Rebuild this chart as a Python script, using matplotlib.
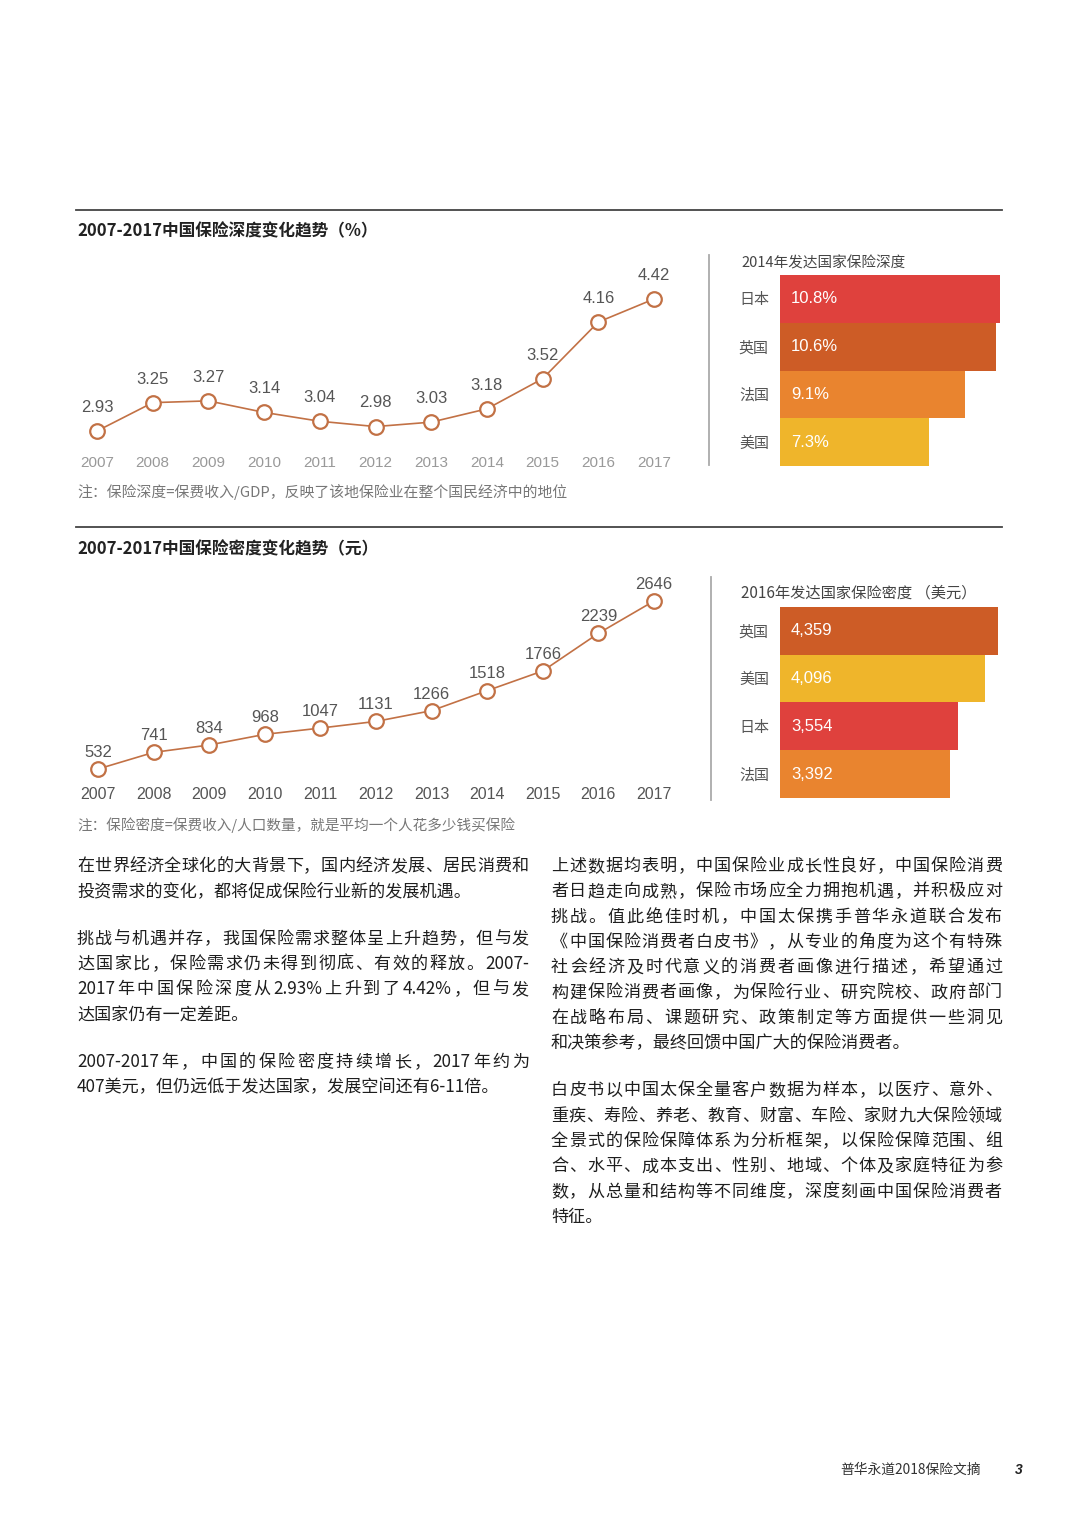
import re
import numpy as np
import matplotlib
matplotlib.use('Agg')
import matplotlib.pyplot as plt
from matplotlib.font_manager import FontProperties

plt.rcParams['font.family'] = ['Noto Sans CJK SC', 'DejaVu Sans']
NUM_FONT = ['Liberation Sans', 'Noto Sans CJK SC']

# ---- data ----
years = [2007, 2008, 2009, 2010, 2011, 2012, 2013, 2014, 2015, 2016, 2017]
depth = [2.93, 3.25, 3.27, 3.14, 3.04, 2.98, 3.03, 3.18, 3.52, 4.16, 4.42]
density = [532, 741, 834, 968, 1047, 1131, 1266, 1518, 1766, 2239, 2646]

depth_countries = ['日本', '英国', '法国', '美国']
depth_values = [10.8, 10.6, 9.1, 7.3]
depth_labels = ['10.8%', '10.6%', '9.1%', '7.3%']

density_countries = ['英国', '美国', '日本', '法国']
density_values = [4359, 4096, 3554, 3392]
density_labels = ['4,359', '4,096', '3,554', '3,392']

country_color = {'日本': '#DF413D', '英国': '#CD5C26', '法国': '#E9842F', '美国': '#EFB52B'}

title1 = '2007-2017中国保险深度变化趋势（%）'
title2 = '2007-2017中国保险密度变化趋势（元）'
note1 = '注：保险深度=保费收入/GDP，反映了该地保险业在整个国民经济中的地位'
note2 = '注：保险密度=保费收入/人口数量，就是平均一个人花多少钱买保险'
bar_title1 = '2014年发达国家保险深度'
bar_title2 = '2016年发达国家保险密度 （美元）'

left_paras = [
    ['在世界经济全球化的大背景下，国内经济发展、居民消费和',
     '投资需求的变化，都将促成保险行业新的发展机遇。'],
    ['挑战与机遇并存，我国保险需求整体呈上升趋势，但与发',
     '达国家比，保险需求仍未得到彻底、有效的释放。2007-',
     '2017年中国保险深度从2.93%上升到了4.42%，但与发',
     '达国家仍有一定差距。'],
    ['2007-2017年，中国的保险密度持续增长，2017年约为',
     '407美元，但仍远低于发达国家，发展空间还有6-11倍。'],
]
right_paras = [
    ['上述数据均表明，中国保险业成长性良好，中国保险消费',
     '者日趋走向成熟，保险市场应全力拥抱机遇，并积极应对',
     '挑战。值此绝佳时机，中国太保携手普华永道联合发布',
     '《中国保险消费者白皮书》，从专业的角度为这个有特殊',
     '社会经济及时代意义的消费者画像进行描述，希望通过',
     '构建保险消费者画像，为保险行业、研究院校、政府部门',
     '在战略布局、课题研究、政策制定等方面提供一些洞见',
     '和决策参考，最终回馈中国广大的保险消费者。'],
    ['白皮书以中国太保全量客户数据为样本，以医疗、意外、',
     '重疾、寿险、养老、教育、财富、车险、家财九大保险领域',
     '全景式的保险保障体系为分析框架，以保险保障范围、组',
     '合、水平、成本支出、性别、地域、个体及家庭特征为参',
     '数，从总量和结构等不同维度，深度刻画中国保险消费者',
     '特征。'],
]

W, H = 1080, 1526
fig = plt.figure(figsize=(W / 100, H / 100), dpi=100)
fig.patch.set_facecolor('white')


def px_axes(l, t, r, b):
    ax = fig.add_axes([l / W, 1 - b / H, (r - l) / W, (b - t) / H])
    for s in ax.spines.values():
        s.set_visible(False)
    ax.set_facecolor('none')
    return ax


def hline(y, x0, x1, color='#444444', lw=1.3):
    fig.add_artist(plt.Line2D([x0 / W, x1 / W], [1 - y / H, 1 - y / H], color=color, lw=lw))


def vline(x, y0, y1, color='#aaaaaa', lw=1.3):
    fig.add_artist(plt.Line2D([x / W, x / W], [1 - y0 / H, 1 - y1 / H], color=color, lw=lw))


line_color = '#C27145'


def line_chart(ax, vals, fmt, lab_off, tick_size, tick_color, pad):
    ax.plot(years, vals, color=line_color, lw=1.2, marker='o', markersize=10.5,
            markerfacecolor='white', markeredgecolor=line_color, markeredgewidth=1.6,
            clip_on=False, zorder=3)
    for x, v in zip(years, vals):
        ax.annotate(fmt(v), (x, v), xytext=(0, lab_off), textcoords='offset points',
                    ha='center', va='center', fontsize=12, color='#555555', family=NUM_FONT)
    ax.set_xticks(years)
    ax.set_xticklabels([str(y) for y in years], fontsize=tick_size, color=tick_color,
                       family=NUM_FONT)
    ax.tick_params(axis='x', length=0, pad=pad)
    ax.set_yticks([])


def bar_chart(ax, countries, vals, labels):
    cols = [country_color[c] for c in countries]
    ax.barh(range(len(vals)), vals, height=1.0, color=cols, edgecolor='none')
    ax.set_xlim(0, max(vals))
    ax.set_ylim(len(vals) - 0.5, -0.5)
    ax.set_yticks(range(len(vals)))
    ax.set_yticklabels(countries, fontsize=10.8, color='#555555')
    ax.tick_params(axis='y', length=0, pad=8)
    ax.set_xticks([])
    for i, lab in enumerate(labels):
        ax.annotate(lab, (0, i), xytext=(8, 0), textcoords='offset points',
                    ha='left', va='center', fontsize=12, color='white', family=NUM_FONT)


# ---- section 1 ----
hline(210, 76, 1002)
fig.text(77 / W, 1 - 231 / H, title1, fontsize=12, fontweight='bold', color='#222222', va='center')

ax1 = px_axes(70, 270, 680, 450)
line_chart(ax1, depth, lambda v: f'{v:.2f}', 17, 11, '#999999', 4)
ax1.set_xlim(2007 - 27 * 10 / 557, 2017 + 26 * 10 / 557)
ax1.set_ylim(2.93 - 19 * 1.49 / 132, 4.42 + 29 * 1.49 / 132)
fig.text(77 / W, 1 - 492 / H, note1, fontsize=10.7, color='#777777', va='center')

vline(709, 255, 465)
fig.text(741 / W, 1 - 263 / H, bar_title1, fontsize=10.5, color='#444444', va='center')
bx1 = px_axes(780, 275, 1000, 466)
bar_chart(bx1, depth_countries, depth_values, depth_labels)

# ---- section 2 ----
hline(527, 76, 1002)
fig.text(77 / W, 1 - 549 / H, title2, fontsize=12, fontweight='bold', color='#222222', va='center')

ax2 = px_axes(70, 585, 680, 780)
line_chart(ax2, density, lambda v: f'{v:d}', 12, 11.5, '#555555', 5)
ax2.set_xlim(2007 - 28 * 10 / 556, 2017 + 26 * 10 / 556)
ax2.set_ylim(532 - 11 * 2114 / 168, 2646 + 16 * 2114 / 168)
fig.text(77 / W, 1 - 825 / H, note2, fontsize=10.5, color='#777777', va='center')

vline(711, 577, 800)
fig.text(741 / W, 1 - 593 / H, bar_title2, fontsize=11, color='#444444', va='center')
bx2 = px_axes(780, 607, 998, 798)
bar_chart(bx2, density_countries, density_values, density_labels)

# ---- body text (justified like the page) ----
renderer = fig.canvas.get_renderer()
body_size = 12.3
body_weight = 'medium'
body_prop = FontProperties(family=['Noto Sans CJK SC', 'DejaVu Sans'], size=body_size,
                           weight=body_weight)


def tok_width(s):
    w, h, d = renderer.get_text_width_height_descent(s, body_prop, ismath=False)
    return w


def draw_line(x0, x1, y, line, justify):
    if not justify:
        fig.text(x0 / W, 1 - y / H, line, fontproperties=body_prop, color='#1e1e1e', va='center')
        return
    toks = re.findall(r'[A-Za-z0-9.%\-/]+|.', line)
    widths = [tok_width(t) for t in toks]
    gap = (x1 - x0 - sum(widths)) / max(len(toks) - 1, 1)
    x = x0
    for t, w in zip(toks, widths):
        fig.text(x / W, 1 - y / H, t, fontproperties=body_prop, color='#1e1e1e', va='center')
        x += w + gap


def column(x0, x1, y0, paras, step=25.3, gap=22):
    y = y0
    for para in paras:
        for k, line in enumerate(para):
            draw_line(x0, x1, y, line, k < len(para) - 1)
            y += step
        y += gap


column(77, 529, 866, left_paras)
column(551, 1002, 866, right_paras)

# ---- footer ----
fig.text(840 / W, 1 - 1470 / H, '普华永道2018保险文摘', fontsize=9.9, color='#333333', va='center')
fig.text(1015 / W, 1 - 1470 / H, '3', fontsize=10, fontweight='bold', style='italic',
         color='#222222', va='center', family=NUM_FONT)

fig.savefig('out.png', dpi=100)
